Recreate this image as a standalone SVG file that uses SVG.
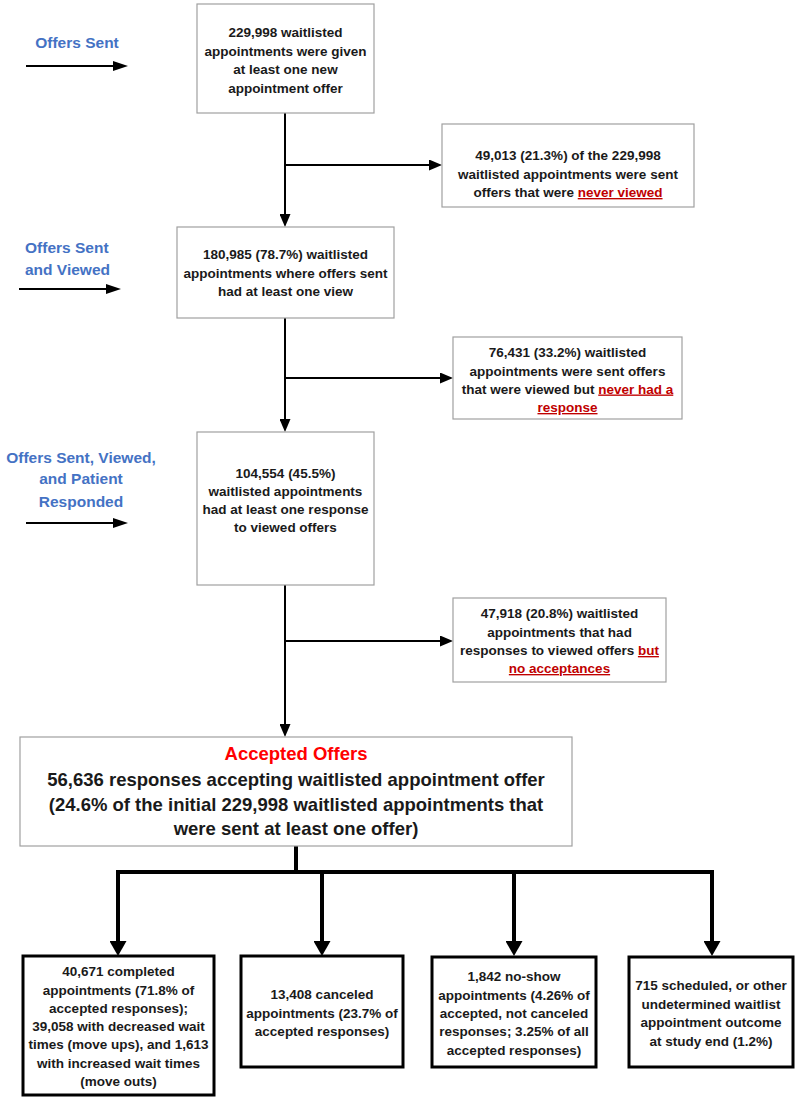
<svg xmlns="http://www.w3.org/2000/svg" width="798" height="1100" viewBox="0 0 798 1100">
<style>
text{font-family:"Liberation Sans",Arial,sans-serif;font-weight:bold;text-anchor:middle;fill:#1a1a1a}
.t{font-size:13.5px}
.lab{font-size:15.5px;fill:#4472C4}
.big{font-size:18.5px}
.acc{font-size:18.5px;fill:#FF0000}
.red{fill:#C00000;text-decoration:underline}
.box{fill:#fff;stroke:#A0A0A0;stroke-width:1.2}
.bbox{fill:#fff;stroke:#000;stroke-width:3}
.ln{fill:none;stroke:#000;stroke-width:2}
.bl{fill:none;stroke:#000;stroke-width:4}
</style>
<defs>
<marker id="ah" markerUnits="userSpaceOnUse" markerWidth="13" markerHeight="11" refX="0" refY="5.5" orient="auto"><path d="M0,0 L13,5.5 L0,11 z" fill="#000"/></marker>
<marker id="ahl" markerUnits="userSpaceOnUse" markerWidth="15" markerHeight="10" refX="0" refY="5" orient="auto"><path d="M0,0 L15,5 L0,10 z" fill="#000"/></marker>
<marker id="ahb" markerUnits="userSpaceOnUse" markerWidth="15" markerHeight="17" refX="0" refY="8.5" orient="auto"><path d="M0,0 L15,8.5 L0,17 z" fill="#000"/></marker>
</defs>

<g id="labels">
<g id="label-sent">
<text class="lab" x="77" y="47.5">Offers Sent</text>
<path class="ln" d="M26,66 H113" marker-end="url(#ahl)"/>
</g>
<g id="label-viewed">
<text class="lab" x="25" y="252.5" style="text-anchor:start">Offers Sent</text>
<text class="lab" x="25" y="274.5" style="text-anchor:start">and Viewed</text>
<path class="ln" d="M19,289 H106" marker-end="url(#ahl)"/>
</g>
<g id="label-responded">
<text class="lab" x="81" y="462.5">Offers Sent, Viewed,</text>
<text class="lab" x="81" y="484">and Patient</text>
<text class="lab" x="81" y="506.5">Responded</text>
<path class="ln" d="M26,523 H113" marker-end="url(#ahl)"/>
</g>
</g>

<g id="connectors">
<path class="ln" d="M285,113 V214" marker-end="url(#ah)"/>
<path class="ln" d="M285,165 H429" marker-end="url(#ah)"/>
<path class="ln" d="M285,318 V419" marker-end="url(#ah)"/>
<path class="ln" d="M285,378 H440" marker-end="url(#ah)"/>
<path class="ln" d="M285,585 V724" marker-end="url(#ah)"/>
<path class="ln" d="M285,641 H440" marker-end="url(#ah)"/>
<path class="bl" d="M296,846 V872"/>
<path class="bl" d="M116,872 H714"/>
<path class="bl" d="M118,872 V941" marker-end="url(#ahb)"/>
<path class="bl" d="M322,872 V941" marker-end="url(#ahb)"/>
<path class="bl" d="M514,872 V941" marker-end="url(#ahb)"/>
<path class="bl" d="M712,872 V941" marker-end="url(#ahb)"/>
</g>

<g id="n-sent">
<rect class="box" x="197" y="4" width="177" height="109"/>
<text class="t" x="285.5" y="37">229,998 waitlisted</text>
<text class="t" x="285.5" y="55.5">appointments were given</text>
<text class="t" x="285.5" y="74">at least one new</text>
<text class="t" x="285.5" y="92.5">appointment offer</text>
</g>

<g id="n-never-viewed">
<rect class="box" x="442" y="124" width="252" height="83"/>
<text class="t" x="568" y="160">49,013 (21.3%) of the 229,998</text>
<text class="t" x="568" y="178.5">waitlisted appointments were sent</text>
<text class="t" x="568" y="197">offers that were <tspan class="red">never viewed</tspan></text>
</g>

<g id="n-viewed">
<rect class="box" x="177" y="227" width="217" height="91"/>
<text class="t" x="285.5" y="259">180,985 (78.7%) waitlisted</text>
<text class="t" x="285.5" y="277.5">appointments where offers sent</text>
<text class="t" x="285.5" y="296">had at least one view</text>
</g>

<g id="n-no-response">
<rect class="box" x="453" y="337" width="229" height="82"/>
<text class="t" x="567.5" y="357">76,431 (33.2%) waitlisted</text>
<text class="t" x="567.5" y="375.5">appointments were sent offers</text>
<text class="t" x="567.5" y="393.5">that were viewed but <tspan class="red">never had a</tspan></text>
<text class="t" x="567.5" y="412"><tspan class="red">response</tspan></text>
</g>

<g id="n-responded">
<rect class="box" x="197" y="432" width="177" height="153"/>
<text class="t" x="285.5" y="478">104,554 (45.5%)</text>
<text class="t" x="285.5" y="496">waitlisted appointments</text>
<text class="t" x="285.5" y="514">had at least one response</text>
<text class="t" x="285.5" y="532">to viewed offers</text>
</g>

<g id="n-no-accept">
<rect class="box" x="453" y="598" width="213" height="84"/>
<text class="t" x="559.5" y="618">47,918 (20.8%) waitlisted</text>
<text class="t" x="559.5" y="636.5">appointments that had</text>
<text class="t" x="559.5" y="655">responses to viewed offers <tspan class="red">but</tspan></text>
<text class="t" x="559.5" y="673"><tspan class="red">no acceptances</tspan></text>
</g>

<g id="n-accepted">
<rect class="box" x="20" y="737" width="552" height="109"/>
<text class="acc" x="296" y="760">Accepted Offers</text>
<text class="big" x="296" y="786">56,636 responses accepting waitlisted appointment offer</text>
<text class="big" x="296" y="810.5">(24.6% of the initial 229,998 waitlisted appointments that</text>
<text class="big" x="296" y="835">were sent at least one offer)</text>
</g>

<g id="n-completed">
<rect class="bbox" x="23" y="956" width="191" height="139"/>
<text class="t" x="118.5" y="976">40,671 completed</text>
<text class="t" x="118.5" y="994.5">appointments (71.8% of</text>
<text class="t" x="118.5" y="1012.5">accepted responses);</text>
<text class="t" x="118.5" y="1030.5">39,058 with decreased wait</text>
<text class="t" x="118.5" y="1049">times (move ups), and 1,613</text>
<text class="t" x="118.5" y="1067.5">with increased wait times</text>
<text class="t" x="118.5" y="1086">(move outs)</text>
</g>

<g id="n-canceled">
<rect class="bbox" x="241" y="956" width="162" height="111"/>
<text class="t" x="322" y="999">13,408 canceled</text>
<text class="t" x="322" y="1017.5">appointments (23.7% of</text>
<text class="t" x="322" y="1036">accepted responses)</text>
</g>

<g id="n-noshow">
<rect class="bbox" x="432" y="957" width="164" height="110"/>
<text class="t" x="514" y="981">1,842 no-show</text>
<text class="t" x="514" y="999.5">appointments (4.26% of</text>
<text class="t" x="514" y="1018">accepted, not canceled</text>
<text class="t" x="514" y="1036">responses; 3.25% of all</text>
<text class="t" x="514" y="1054.5">accepted responses)</text>
</g>

<g id="n-other">
<rect class="bbox" x="629" y="957" width="164" height="110"/>
<text class="t" x="711" y="990">715 scheduled, or other</text>
<text class="t" x="711" y="1008.5">undetermined waitlist</text>
<text class="t" x="711" y="1027">appointment outcome</text>
<text class="t" x="711" y="1045.5">at study end (1.2%)</text>
</g>
</svg>
